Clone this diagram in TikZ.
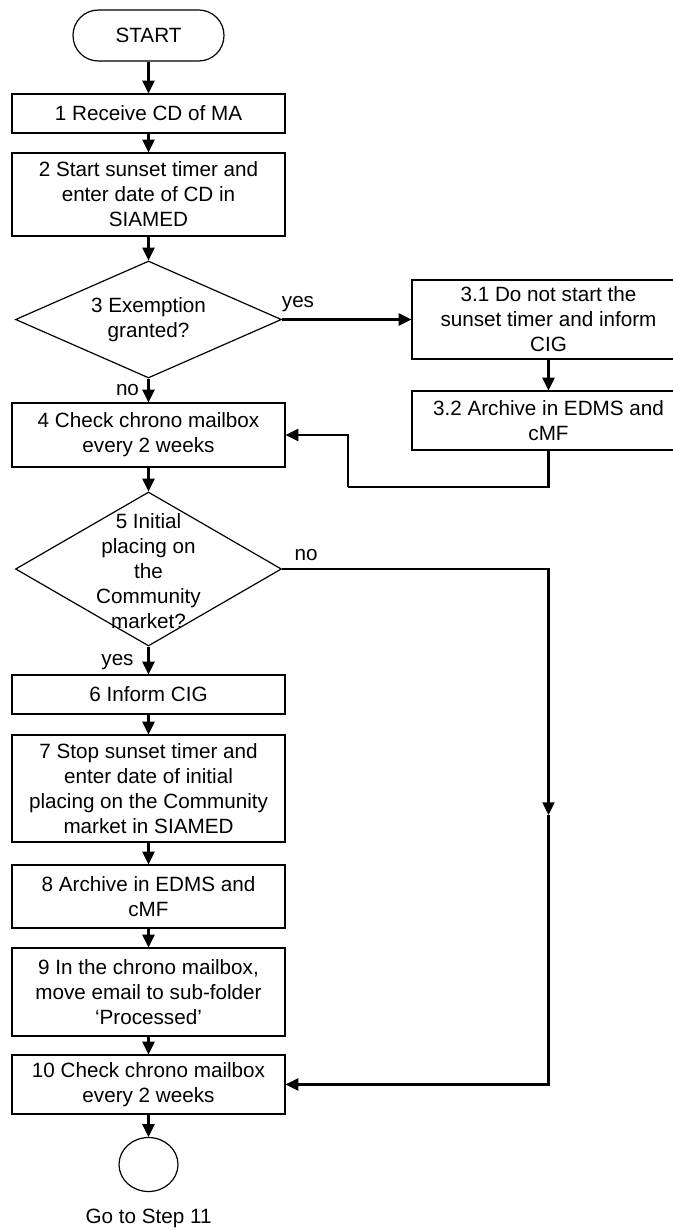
\documentclass[tikz,border=0pt]{standalone}
\usepackage{fontspec}
\setmainfont{Liberation Sans}
\usetikzlibrary{shapes.geometric,arrows.meta}
\newcommand\diagfont{\fontsize{15.5pt}{18.75pt}\selectfont}
\tikzset{
  box/.style={draw, line width=0.9pt, rectangle, minimum width=204.75pt, align=center, inner sep=0pt, font=\diagfont},
  decision/.style={draw, diamond, line width=0.9pt, inner sep=0pt, minimum width=199.5pt},
  dtext/.style={align=center, inner sep=0pt, font=\diagfont},
  lbl/.style={inner sep=0pt, font=\diagfont},
  conn/.style={line width=1.6pt, -{Triangle[length=9.5pt,width=9pt]}},
  plain/.style={line width=1.6pt},
}
\begin{document}
\begin{tikzpicture}[x=0.75pt,y=-0.75pt]
\useasboundingbox (0,0) rectangle (673,1231);
\fill[white] (0,0) rectangle (673,1231);

\node[draw, line width=0.9pt, rectangle, rounded corners=19pt, minimum width=113.25pt, minimum height=38.25pt, font=\diagfont] (start) at (148.5,35.5) {START};
\node[box, minimum height=29.25pt] (b1) at (148.5,113.5) {1 Receive CD of MA};
\node[box, minimum height=62.25pt] (b2) at (148.5,194.5) {2 Start sunset timer and\\enter date of CD in\\SIAMED};
\node[decision, minimum height=87.75pt] (d3) at (148.5,319.5) {};
\node[dtext] (d3t) at (148.5,320) {3 Exemption\\granted?};
\node[box, minimum height=59.25pt] (b31) at (548.5,319.5) {3.1 Do not start the\\sunset timer and inform\\CIG};
\node[box, minimum height=44.25pt] (b32) at (548.5,420.5) {3.2 Archive in EDMS and\\cMF};
\node[box, minimum height=48pt] (b4) at (148.5,435) {4 Check chrono mailbox\\every 2 weeks};
\node[decision, minimum height=115.5pt] (d5) at (148.5,569) {};
\node[dtext] (d5t) at (148.5,571) {5 Initial\\placing on\\the\\Community\\market?};
\node[box, minimum height=29.25pt] (b6) at (148.5,694.5) {6 Inform CIG};
\node[box, minimum height=80.25pt] (b7) at (148.5,788.5) {7 Stop sunset timer and\\enter date of initial\\placing on the Community\\market in SIAMED};
\node[box, minimum height=47.25pt] (b8) at (148.5,896.5) {8 Archive in EDMS and\\cMF};
\node[box, minimum height=66pt] (b9) at (148.5,992) {9 In the chrono mailbox,\\move email to sub-folder\\‘Processed’};
\node[box, minimum height=44.25pt] (b10) at (148.5,1084.5) {10 Check chrono mailbox\\every 2 weeks};
\node[draw, ellipse, line width=0.9pt, inner sep=0pt, minimum width=44.25pt, minimum height=40.5pt] (end) at (148.5,1164.5) {};
\node[lbl] (goto) at (148.5,1218) {Go to Step 11};

\node[lbl] (yes3) at (298,304) {yes};
\node[lbl] (no3) at (127.5,390) {no};
\node[lbl] (no5) at (306,555) {no};
\node[lbl] (yes5) at (117.5,662) {yes};

\coordinate (fbc) at (348,487);
\coordinate (nc) at (548.5,815);

\draw[conn] (start) -- (b1);
\draw[conn] (b1) -- (b2);
\draw[conn] (b2) -- (d3);
\draw[conn] (d3.east) -- (d3.east -| b31.west);
\draw[conn] (b31) -- (b32);
\draw[plain] (b32.south) |- (fbc);
\draw[conn] (fbc) |- (b4.east);
\draw[conn] (d3) -- (b4);
\draw[conn] (b4) -- (d5);
\draw[conn] (d5.east) -| (nc);
\draw[conn] (nc) |- (b10.east);
\draw[conn] (d5) -- (b6);
\draw[conn] (b6) -- (b7);
\draw[conn] (b7) -- (b8);
\draw[conn] (b8) -- (b9);
\draw[conn] (b9) -- (b10);
\draw[conn] (b10) -- (end);
\end{tikzpicture}
\end{document}
